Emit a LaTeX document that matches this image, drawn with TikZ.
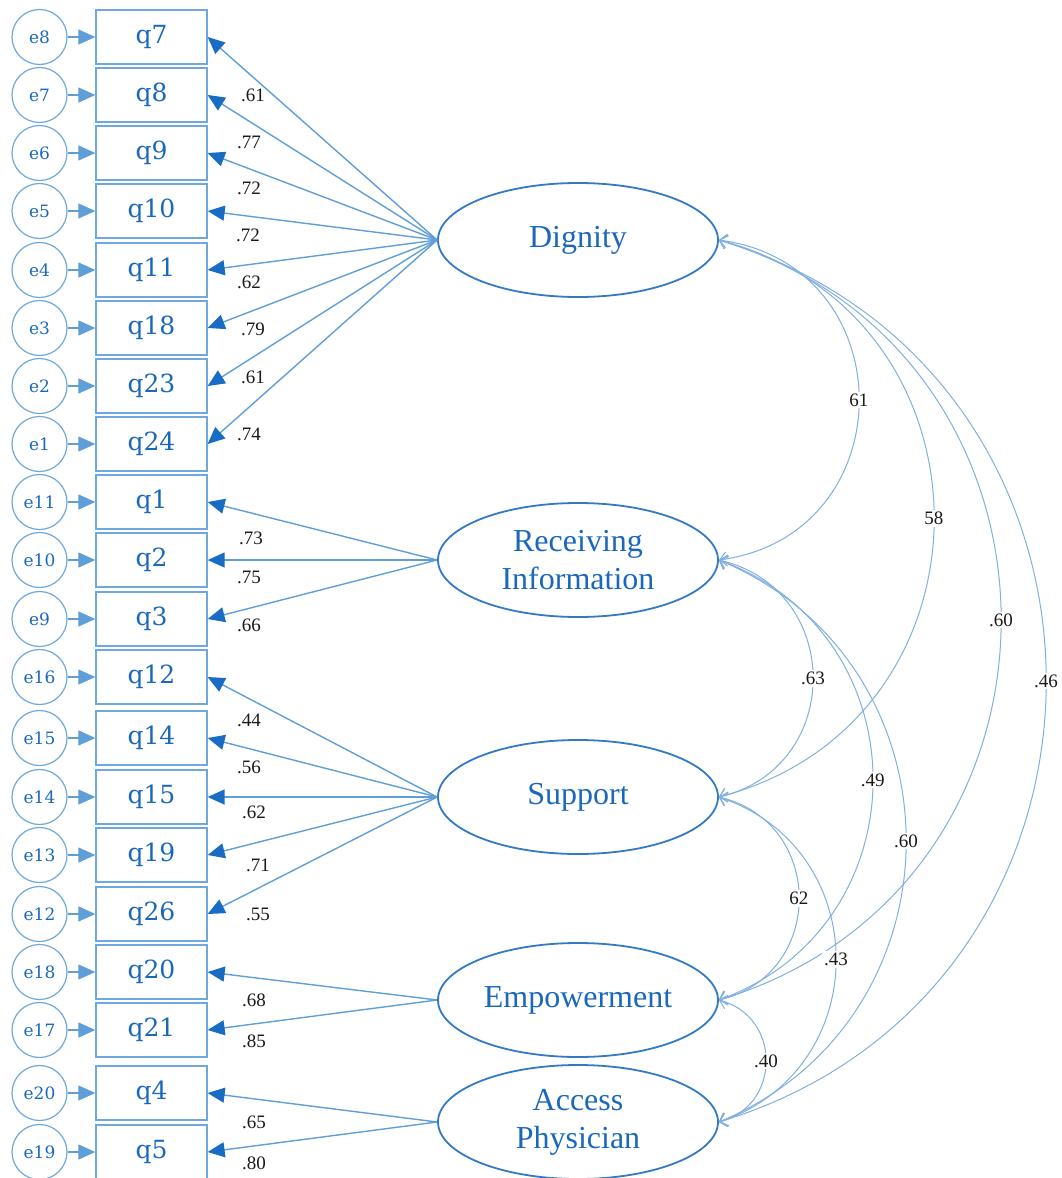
\documentclass[tikz,border=0pt]{standalone}
\usepackage{fontspec}
\setmainfont{Liberation Serif}
\newfontfamily\qfont{DejaVu Serif}
\usetikzlibrary{arrows.meta,shapes.geometric,calc}
\definecolor{lineblue}{RGB}{95,158,214}
\definecolor{tipblue}{RGB}{24,108,196}
\definecolor{ellblue}{RGB}{50,122,196}
\definecolor{textblue}{RGB}{26,104,190}
\definecolor{curveblue}{RGB}{128,175,224}
\definecolor{boxblue}{RGB}{110,168,220}
\definecolor{numcol}{RGB}{25,25,25}
\begin{document}
\begin{tikzpicture}[x=1pt,y=-1pt,
  lat/.style={ellipse,draw=ellblue,line width=1.8pt,minimum width=280pt,minimum height=114pt,inner sep=0pt,
    text=textblue,align=center,font=\fontsize{32}{38}\selectfont},
  obs/.style={rectangle,draw=boxblue,line width=1.3pt,minimum width=111pt,minimum height=54pt,inner sep=0pt,
    text=textblue,font=\qfont\fontsize{25}{30}\selectfont},
  err/.style={circle,draw=boxblue,line width=1.2pt,minimum size=55pt,inner sep=0pt,
    text=textblue,font=\qfont\fontsize{17}{19}\selectfont},
  errarrow/.style={draw=lineblue,line width=1.2pt,-{Triangle[length=17pt,width=15pt,color=lineblue]}},
  load/.style={draw=lineblue,line width=1.4pt,-{Triangle[length=17pt,width=15pt,color=tipblue]}},
  cov/.style={draw=curveblue,line width=1pt,{Straight Barb[length=7pt,width=14pt]}-{Straight Barb[length=7pt,width=14pt]}},
  lab/.style={text=numcol,font=\fontsize{19}{22}\selectfont,inner sep=0pt},
  covlab/.style={text=numcol,font=\fontsize{19}{22}\selectfont,fill=white,inner sep=2pt}
]
\useasboundingbox (0,0) rectangle (1062,1178);

% latent variables
\node[lat] (dig) at (578,240) {Dignity};
\node[lat] (rec) at (578,560) {Receiving\\Information};
\node[lat] (sup) at (578,797) {Support};
\node[lat] (emp) at (578,1000) {Empowerment};
\node[lat] (acc) at (578,1122) {Access\\Physician};

% observed variables and errors
\foreach \n/\e/\y in {7/8/37, 8/7/95, 9/6/153, 10/5/211, 11/4/270, 18/3/328, 23/2/386, 24/1/444,
                      1/11/502, 2/10/560, 3/9/619,
                      12/16/677, 14/15/738, 15/14/797, 19/13/855, 26/12/914,
                      20/18/972, 21/17/1030, 4/20/1093, 5/19/1152} {
  \node[obs] (q\n) at (151.5,\y) {q\n};
  \node[err] (e\e) at (39.5,\y) {e\e};
  \draw[errarrow] (e\e) -- (q\n);
}

% loadings
\foreach \q in {7,8,9,10,11,18,23,24} \draw[load] (dig.west) -- (q\q.east);
\foreach \q in {1,2,3} \draw[load] (rec.west) -- (q\q.east);
\foreach \q in {12,14,15,19,26} \draw[load] (sup.west) -- (q\q.east);
\foreach \q in {20,21} \draw[load] (emp.west) -- (q\q.east);
\foreach \q in {4,5} \draw[load] (acc.west) -- (q\q.east);

% loading labels
\foreach \t/\x/\y [count=\i] in {.61/253/95, .77/249/142, .72/249/188, .72/248/235, .62/249/282,
   .79/253/329, .61/253/377, .74/249/434, .73/251/538, .75/249/577, .66/249/625,
   .44/249/720, .56/249/767, .62/254/812, .71/258/865, .55/258/914,
   .68/254/1000, .85/254/1041, .65/254/1122, .80/254/1163}
  \node[lab] (l\i) at (\x,\y) {\t};

% covariances
\foreach \a/\b/\dx/\dy/\t in {dig/rec/186.7/25.0/61, dig/sup/286.7/75.0/58, dig/emp/376.0/113.8/.60,
   dig/acc/436.1/132.4/.46, rec/sup/125.3/29.3/.63, rec/emp/205.2/74.8/.49, rec/acc/249.4/104.4/.60,
   sup/emp/106.7/25.6/62, sup/acc/156.0/52.2/.43, emp/acc/62.7/16.5/.40}
  \draw[cov] (\a.east) .. controls ($(\a.east)+(\dx,\dy)$) and ($(\b.east)+(\dx,-\dy)$) .. (\b.east)
    node[covlab,pos=0.5] {\t};
\end{tikzpicture}
\end{document}
